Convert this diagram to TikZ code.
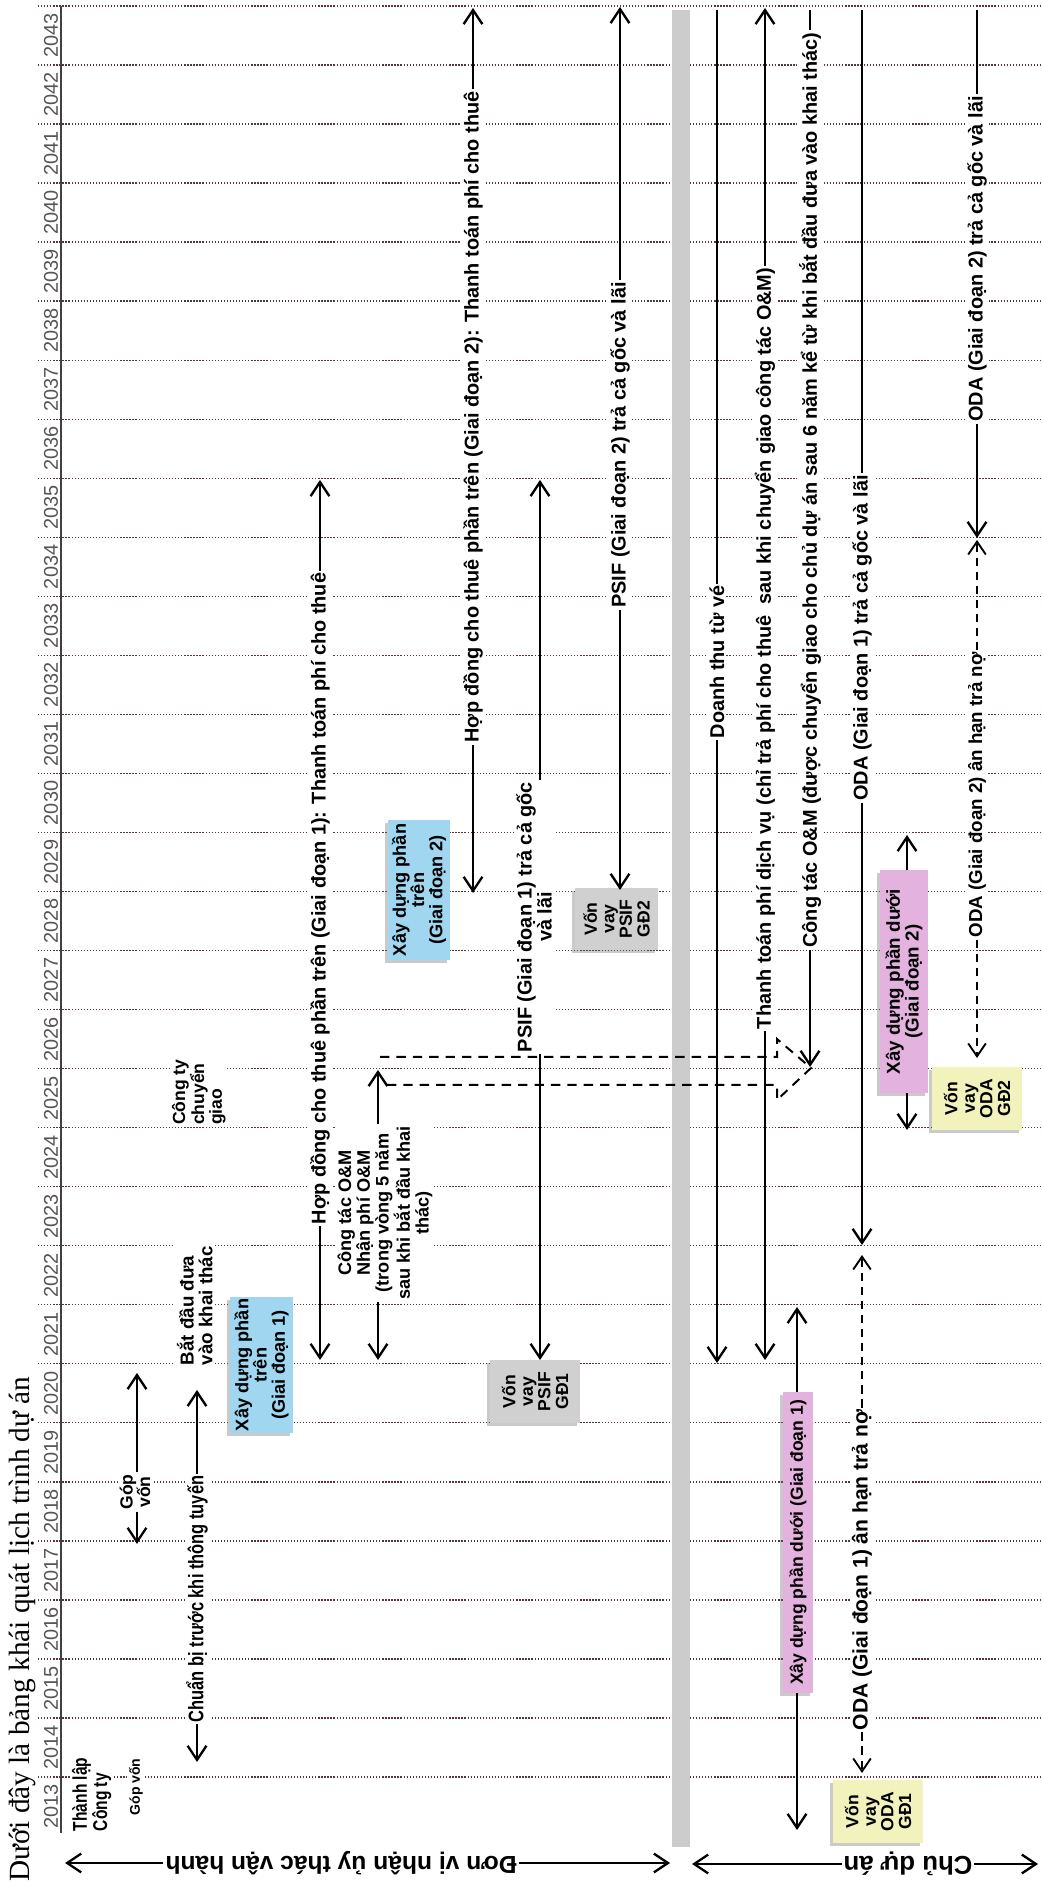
\documentclass[tikz,border=0pt]{standalone}
\usepackage{fontspec}
\setmainfont{Liberation Sans}
\newfontfamily\capserif{Liberation Serif}
\newfontfamily\narrowsans[FakeStretch=0.78]{Liberation Sans}
\usetikzlibrary{arrows.meta,shadows}
\definecolor{gridc}{RGB}{85,55,55}
\definecolor{bandc}{RGB}{204,204,204}
\definecolor{blueb}{RGB}{160,214,240}
\definecolor{pinkb}{RGB}{228,178,222}
\definecolor{yellb}{RGB}{242,242,188}
\definecolor{grayb}{RGB}{208,208,208}
\definecolor{yrc}{RGB}{85,85,85}
\newcommand\fz[2]{\fontsize{#1pt}{#2pt}\selectfont}
\begin{document}
\begin{tikzpicture}[x=0.03cm, y=-0.03cm,
  gridl/.style={draw=gridc, line width=1.2pt, dash pattern=on 1.1pt off 1.5pt},
  lbl/.style={fill=white, inner sep=1.5pt, font=\bfseries\fz{#1}{#1}},
  lbl/.default=17,
  yrl/.style={text=yrc, inner sep=0pt, font=\fz{17}{17}},
  boxs/.style={inner sep=1pt, align=center, font=\bfseries\fz{#1}{#1},
    drop shadow={shadow xshift=-2.5pt, shadow yshift=-2.5pt, opacity=0.35, fill=black!60}},
  boxs/.default=15,
  arrow/.style={line width=2pt, -{Straight Barb[length=12pt,width=16pt]}},
  plain/.style={line width=2pt},
  dasharr/.style={line width=1.6pt, dash pattern=on 7pt off 5pt, -{Straight Barb[length=11pt,width=15pt]}},
  blockd/.style={line width=1.7pt, dash pattern=on 8pt off 6pt},
]
\begin{scope}[rotate=90, transform shape]
\path[use as bounding box] (0,0) rectangle (1887,1041);
% grid
\foreach \j in {1,...,31} \draw[gridl] ({51+59.03*\j},38) -- ({51+59.03*\j},1041);
% band
\fill[bandc] (40,672) rectangle (1877,690);
% axis
\coordinate (axA) at (54,61); \coordinate (axB) at (1881,61);
\draw[line width=1.3pt, black!75] (axA) -- (axB);
\foreach \k in {0,...,30} {\pgfmathtruncatemacro\yy{2013+\k}\node[yrl] (yr\k) at ({80.5+59.03*\k},51) {\yy};}
% caption
\node[anchor=west, inner sep=0pt, font=\capserif\fz{25}{25}] (cap) at (5,22) {Dưới đây là bảng khái quát lịch trình dự án};

% side labels
\node[lbl=21, rotate=90] (donvi) at (24,341) {Đơn vị nhận ủy thác vận hành};
\coordinate (dvA) at (24,65); \coordinate (dvB) at (24,670);
\draw[arrow] (donvi.east) -- (dvA);
\draw[arrow] (donvi.west) -- (dvB);
\node[lbl=22, rotate=90] (chuda) at (23,908) {Chủ dự án};
\coordinate (cdA) at (23,692); \coordinate (cdB) at (23,1038);
\draw[arrow] (chuda.east) -- (cdA);
\draw[arrow] (chuda.west) -- (cdB);

% ===== upper section =====
\node[lbl, anchor=north west, align=left, font=\narrowsans\bfseries\fz{17}{15.5}] (thanhlap) at (54,70) {Thành lập\\Công ty};
\node[lbl=12] (gop1) at (100,136) {Góp vốn};

\node[lbl, align=center, font=\bfseries\fz{15}{15}] (gop2) at (395,135) {Góp\\vốn};
\coordinate (gpL) at (343,137); \coordinate (gpR) at (514,137);
\draw[arrow] (gop2.west |- gpL) -- (gpL);
\draw[arrow] (gop2.east |- gpR) -- (gpR);

\node[lbl, font=\narrowsans\bfseries\fz{18}{18}] (chuanbi) at (288,197) {Chuẩn bị trước khi thông tuyến};
\coordinate (cbL) at (125,197); \coordinate (cbR) at (497,197);
\draw[arrow] (chuanbi.west) -- (cbL);
\draw[arrow] (chuanbi.east) -- (cbR);

\node[boxs=15.5, fill=blueb, minimum width=4.08cm, minimum height=1.89cm] (xdt1) at (522,261.5) {Xây dựng phần\\trên\\(Giai đoạn 1)};

\node[lbl, anchor=north west, align=left, font=\bfseries\fz{16}{16}] (batdau) at (520,175) {Bắt đầu đưa\\vào khai thác};
\node[lbl, anchor=north west, align=left, font=\bfseries\fz{15}{15}] (ctcg) at (760,170) {Công ty\\chuyển\\giao};

\node[lbl] (hd1) at (988.5,320) {Hợp đồng cho thuê phần trên (Giai đoạn 1): Thanh toán phí cho thuê};
\coordinate (hd1L) at (527,320); \coordinate (hd1R) at (1407,320);
\draw[arrow] (hd1.west) -- (hd1L);
\draw[arrow] (hd1.east) -- (hd1R);

\node[lbl, align=center, font=\bfseries\fz{15.5}{16}] (om5) at (674,385) {Công tác O\&M\\Nhận phí O\&M\\(trong vòng 5 năm\\sau khi bắt đầu khai\\thác)};
\coordinate (om5L) at (527,378); \coordinate (om5R) at (817,378);
\draw[arrow] (om5.west |- om5L) -- (om5L);
\draw[arrow] (om5.east |- om5R) -- (om5R);

% dashed transfer block arrow
\coordinate (bk1) at (830,380); \coordinate (bk2) at (830,777); \coordinate (bk3) at (848,777);
\coordinate (bk4) at (819,811); \coordinate (bk5) at (787,777); \coordinate (bk6) at (802,777);
\coordinate (bk7) at (802,380);
\draw[blockd] (bk1) -- (bk2) -- (bk3) -- (bk4) -- (bk5) -- (bk6) -- (bk7);

\node[boxs=15.5, fill=blueb, minimum width=4.2cm, minimum height=1.86cm] (xdt2) at (997,419) {Xây dựng phần\\trên\\(Giai đoạn 2)};

\node[lbl] (hd2) at (1470,473) {Hợp đồng cho thuê phần trên (Giai đoạn 2): Thanh toán phí cho thuê};
\coordinate (hd2L) at (994,473); \coordinate (hd2R) at (1879,473);
\draw[arrow] (hd2.west) -- (hd2L);
\draw[arrow] (hd2.east) -- (hd2R);

\node[boxs, fill=grayb, minimum width=1.89cm, minimum height=2.7cm] (vp1) at (495.5,535) {Vốn\\vay\\PSIF\\GĐ1};
\node[lbl, align=center, font=\bfseries\fz{17}{15.5}] (psif1) at (970,534) {PSIF (Giai đoạn 1) trả cả gốc\\và lãi};
\coordinate (p1L) at (527,540); \coordinate (p1R) at (1407,540);
\draw[arrow] (psif1.west |- p1L) -- (p1L);
\draw[arrow] (psif1.east |- p1R) -- (p1R);

\node[boxs, fill=grayb, minimum width=1.86cm, minimum height=2.49cm] (vp2) at (968,616.5) {Vốn\\vay\\PSIF\\GĐ2};
\node[lbl] (psif2) at (1442,620) {PSIF (Giai đoạn 2) trả cả gốc và lãi};
\coordinate (p2L) at (997,620); \coordinate (p2R) at (1880,620);
\draw[arrow] (psif2.west) -- (p2L);
\draw[arrow] (psif2.east) -- (p2R);

% ===== lower section =====
\node[lbl] (dt) at (1225,717) {Doanh thu từ vé};
\coordinate (dtL) at (524,717); \coordinate (dtR) at (1877,717);
\draw[arrow] (dt.west) -- (dtL);
\draw[plain] (dt.east) -- (dtR);

\node[lbl] (ttdv) at (1238.5,765) {Thanh toán phí dịch vụ (chỉ trả phí cho thuê \ sau khi chuyển giao công tác O\&M)};
\coordinate (ttL) at (527,765); \coordinate (ttR) at (1879,765);
\draw[arrow] (ttdv.west) -- (ttL);
\draw[arrow] (ttdv.east) -- (ttR);

\node[lbl] (omcg) at (1397,810) {Công tác O\&M (được chuyển giao cho chủ dự án sau 6 năm kể từ khi bắt đầu đưa vào khai thác)};
\coordinate (ocL) at (820,810); \coordinate (ocR) at (1877,810);
\draw[arrow] (omcg.west) -- (ocL);
\draw[plain] (omcg.east) -- (ocR);

\node[boxs, fill=pinkb, minimum width=9.03cm, minimum height=0.9cm] (pk1) at (344.5,798) {Xây dựng phần dưới (Giai đoạn 1)};
\coordinate (pk1L) at (57,797); \coordinate (pk1R) at (580,797);
\draw[arrow] (pk1.west |- pk1L) -- (pk1L);
\draw[arrow] (pk1.east |- pk1R) -- (pk1R);

\node[boxs, fill=yellb, minimum width=1.89cm, minimum height=2.7cm] (vo1) at (75.5,878) {Vốn\\vay\\ODA\\GĐ1};

\node[lbl=18] (oda1an) at (317,862) {ODA (Giai đoạn 1) ân hạn trả nợ};
\coordinate (o1aL) at (114,862); \coordinate (o1aR) at (632,862);
\draw[dasharr] (oda1an.west) -- (o1aL);
\draw[dasharr] (oda1an.east) -- (o1aR);

\node[lbl] (oda1tra) at (1249,862) {ODA (Giai đoạn 1) trả cả gốc và lãi};
\coordinate (o1tL) at (642,862); \coordinate (o1tR) at (1877,862);
\draw[arrow] (oda1tra.west) -- (o1tL);
\draw[plain] (oda1tra.east) -- (o1tR);

\node[boxs=16, fill=pinkb, minimum width=6.69cm, minimum height=1.44cm] (pk2) at (905.5,904) {Xây dựng phần dưới\\(Giai đoạn 2)};
\coordinate (pk2L) at (757,907); \coordinate (pk2R) at (1052,907);
\draw[arrow] (pk2.west |- pk2L) -- (pk2L);
\draw[arrow] (pk2.east |- pk2R) -- (pk2R);

\node[boxs, fill=yellb, minimum width=1.89cm, minimum height=2.7cm] (vo2) at (788.5,977) {Vốn\\vay\\ODA\\GĐ2};

\node[lbl=16] (oda2an) at (1092,977) {ODA (Giai đoạn 2) ân hạn trả nợ};
\coordinate (o2aL) at (829,977); \coordinate (o2aR) at (1347,977);
\draw[dasharr] (oda2an.west) -- (o2aL);
\draw[dasharr] (oda2an.east) -- (o2aR);

\node[lbl] (oda2tra) at (1628,977) {ODA (Giai đoạn 2) trả cả gốc và lãi};
\coordinate (o2tL) at (1349,977); \coordinate (o2tR) at (1877,977);
\draw[arrow] (oda2tra.west) -- (o2tL);
\draw[plain] (oda2tra.east) -- (o2tR);
\end{scope}
\end{tikzpicture}
\end{document}
